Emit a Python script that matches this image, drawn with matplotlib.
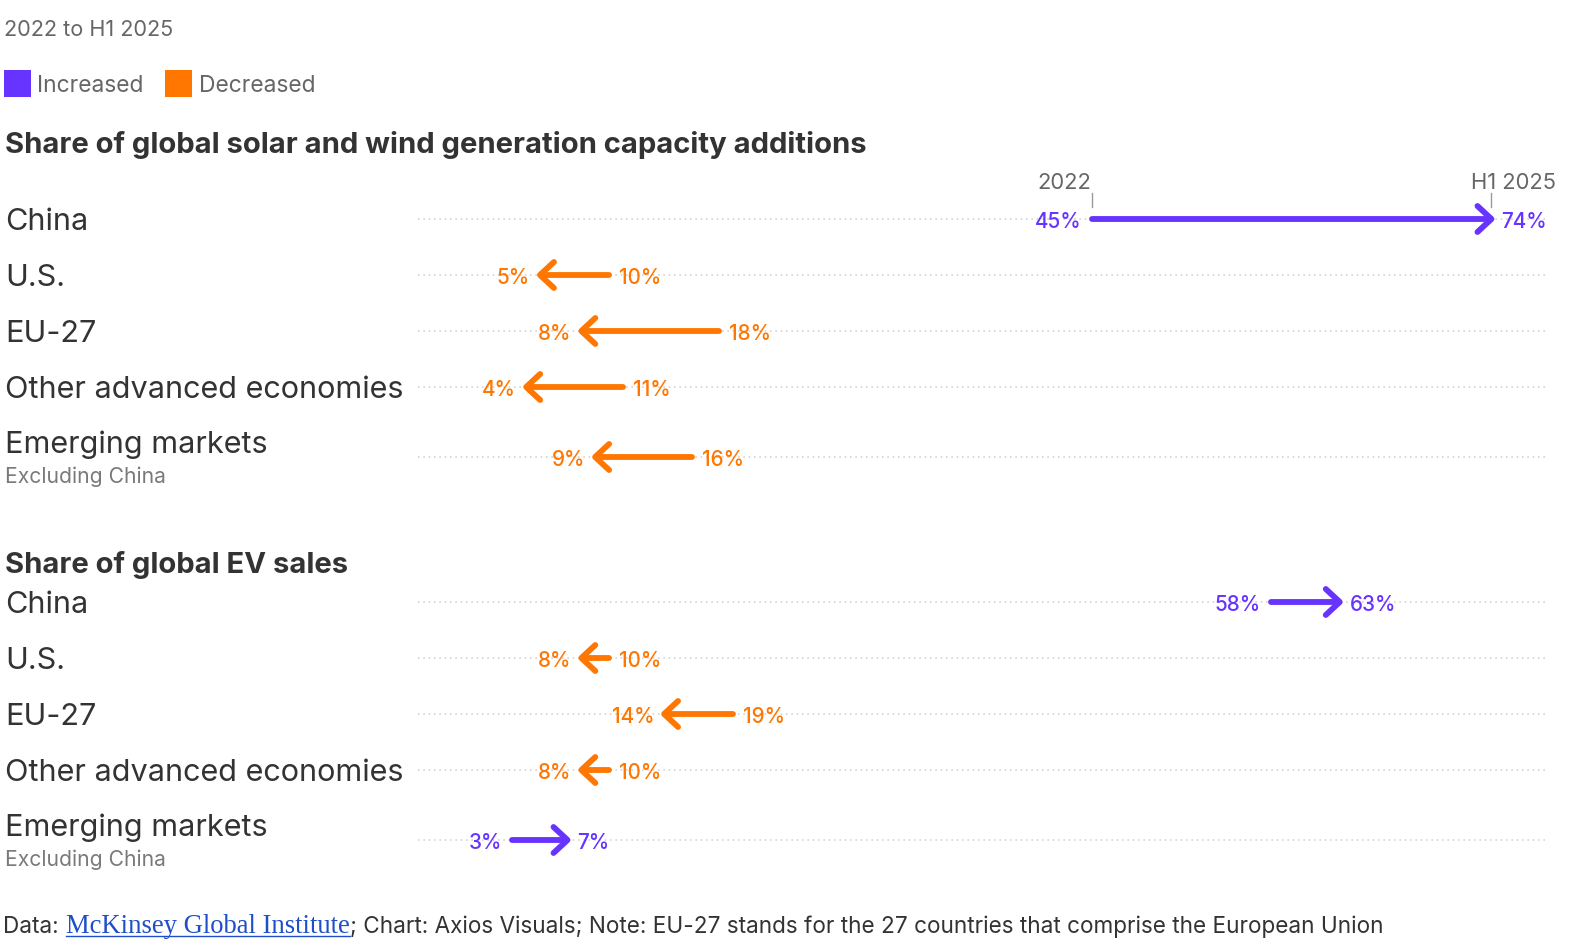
import matplotlib
matplotlib.use("Agg")
import matplotlib.pyplot as plt
from matplotlib.patches import Rectangle

# ---------------- data ----------------
regions = ["China", "U.S.", "EU-27", "Other advanced economies", "Emerging markets"]
sublabels = ["", "", "", "", "Excluding China"]
solar_2022 = [45, 10, 18, 11, 16]
solar_h1_2025 = [74, 5, 8, 4, 9]
ev_2022 = [58, 10, 19, 10, 3]
ev_h1_2025 = [63, 8, 14, 8, 7]
section_titles = ["Share of global solar and wind generation capacity additions",
                  "Share of global EV sales"]
period_labels = ["2022", "H1 2025"]
legend_labels = ["Increased", "Decreased"]
subtitle = "2022 to H1 2025"
footer_parts = ["Data: ", "McKinsey Global Institute",
                "; Chart: Axios Visuals; Note: EU-27 stands for the 27 countries that comprise the European Union"]

# ---------------- style ----------------
W, H = 1574, 951
PURPLE = "#6633ff"
ORANGE = "#ff7700"
DARK = "#333333"
GRAY = "#666666"
LIGHT = "#7a7a7a"
LINK = "#1f4fc8"
FONT = ["Inter", "DejaVu Sans"]
SERIF = ["Liberation Serif", "DejaVu Serif"]

plt.rcParams["font.family"] = FONT

fig = plt.figure(figsize=(W / 100, H / 100), dpi=100)
fig.patch.set_facecolor("white")
renderer = fig.canvas.get_renderer()

# axes covering the whole figure; x in percent, y in pixel rows (top = 0)
X0, PX = 471.0, 13.79          # pixel of 0 % and pixels per percentage point
ax = fig.add_axes([0, 0, 1, 1])
ax.set_xlim((0 - X0) / PX, (W - X0) / PX)
ax.set_ylim(H, 0)
ax.axis("off")


def fx(px):
    return px / W


def fy(py):
    return 1 - py / H


def fit(t, target):
    bb = t.get_window_extent(renderer=renderer)
    t.set_fontsize(t.get_fontsize() * target / bb.width)
    return t.get_fontsize()


def width_px(t):
    return t.get_window_extent(renderer=renderer).width


# ---------------- header ----------------
t = fig.text(fx(4), fy(36), subtitle, color=GRAY, fontsize=17, va="baseline")
fit(t, 170)

ax.add_patch(Rectangle((fx(4), fy(97)), 27 / W, 27 / H, transform=fig.transFigure,
                       color=PURPLE, lw=0))
ax.add_patch(Rectangle((fx(165), fy(97)), 27 / W, 27 / H, transform=fig.transFigure,
                       color=ORANGE, lw=0))
t1 = fig.text(fx(37), fy(92), legend_labels[0], color=GRAY, fontsize=17, va="baseline")
lfs = fit(t1, 107)
fig.text(fx(199), fy(92), legend_labels[1], color=GRAY, fontsize=lfs, va="baseline")

# ---------------- sections ----------------
title_base = [153, 573]
title_width = [864, 344]
line_ys = [[219, 275, 331, 387, 457], [602, 658, 714, 770, 840]]
starts = [solar_2022, ev_2022]
ends = [solar_h1_2025, ev_h1_2025]

# row label size fitted from the longest label
probe = fig.text(fx(5), fy(398), regions[3], color=DARK, fontsize=20, va="baseline")
row_fs = fit(probe, 399)
probe.remove()
probe = fig.text(fx(5), fy(483), sublabels[4], color=LIGHT, fontsize=14, va="baseline")
sub_fs = fit(probe, 161)
probe.remove()
probe = ax.text(0, 0, "74%", fontsize=16, weight="medium")
val_fs = fit(probe, 46)
probe.remove()

tt = fig.text(fx(5), fy(title_base[0]), section_titles[0], color=DARK, fontsize=20,
              weight="bold", va="baseline")
title_fs = fit(tt, title_width[0])
fig.text(fx(5), fy(title_base[1]), section_titles[1], color=DARK, fontsize=title_fs,
         weight="bold", va="baseline")

xmin_grid = (418 - X0) / PX
xmax_grid = (1548 - X0) / PX
gap = 10 / PX
head_dx = 14 / PX
head_dy = 13

for s in range(2):
    for i, region in enumerate(regions):
        y = line_ys[s][i]
        a, b = starts[s][i], ends[s][i]
        # dotted guide
        ax.plot([xmin_grid, xmax_grid], [y, y], color="#d4d4d4", lw=1.2,
                ls=(0, (1, 2.2)), zorder=1)
        # labels
        if sublabels[i]:
            fig.text(fx(5), fy(y - 4), region, color=DARK, fontsize=row_fs, va="baseline")
            fig.text(fx(5), fy(y + 26), sublabels[i], color=LIGHT, fontsize=sub_fs,
                     va="baseline")
        else:
            fig.text(fx(5), fy(y + 11), region, color=DARK, fontsize=row_fs, va="baseline")
        col = PURPLE if b > a else ORANGE
        d = 1 if b > a else -1
        # shaft
        ax.plot([a, b - d * 2 / PX], [y, y], color=col, lw=4.2,
                solid_capstyle="round", zorder=3)
        # chevron head
        ax.plot([b - d * head_dx, b, b - d * head_dx], [y - head_dy, y, y + head_dy],
                color=col, lw=4.2, solid_capstyle="round", solid_joinstyle="round",
                zorder=3)
        # value labels
        ax.text(a - d * gap, y + 9, f"{a}%", color=col, fontsize=val_fs,
                weight="medium", ha="right" if d > 0 else "left", va="baseline",
                zorder=4)
        ax.text(b + d * gap, y + 9, f"{b}%", color=col, fontsize=val_fs,
                weight="medium", ha="left" if d > 0 else "right", va="baseline",
                zorder=4)

# period markers above the first China row
cy = line_ys[0][0]
a, b = starts[0][0], ends[0][0]
for v in (a, b):
    ax.plot([v, v], [193, 207], color="#999999", lw=1.0, zorder=2)
pt = ax.text(a, 189, period_labels[0], color=GRAY, fontsize=16, ha="right",
             va="baseline")
pfs = fit(pt, 54)
fig.text(fx(1556), fy(189), period_labels[1], color=GRAY, fontsize=pfs, ha="right",
         va="baseline")

# ---------------- footer ----------------
fb = 933
f1 = fig.text(fx(3), fy(fb), footer_parts[0], color=DARK, fontsize=16, va="baseline")
f3 = fig.text(fx(350), fy(fb), footer_parts[2], color=DARK, fontsize=16, va="baseline")
ffs = fit(f3, 1036)
f1.set_fontsize(ffs)
f2 = fig.text(fx(66), fy(fb), footer_parts[1], color=LINK, fontsize=16, va="baseline",
              family=SERIF)
fit(f2, 284)
fig.add_artist(plt.Line2D([fx(66), fx(350)], [fy(fb + 3), fy(fb + 3)], color=LINK,
                          lw=1.0, transform=fig.transFigure))

fig.savefig("out.png", dpi=100, facecolor="white")
